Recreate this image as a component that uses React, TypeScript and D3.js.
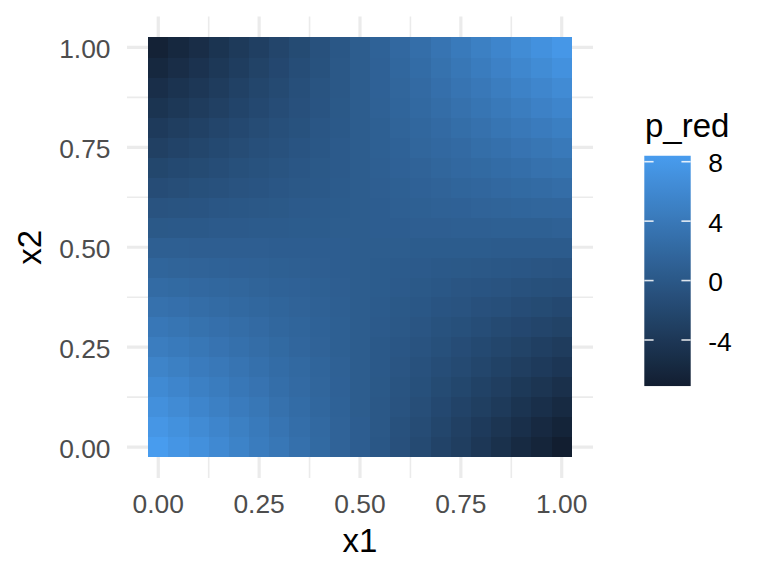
import React from 'react';
import * as d3 from 'd3';

// Grid coordinates
const x1Values = [0.0, 0.05, 0.1, 0.15, 0.2, 0.25, 0.3, 0.35, 0.4, 0.45, 0.5, 0.55, 0.6, 0.65, 0.7, 0.75, 0.8, 0.85, 0.9, 0.95, 1.0];
const x2Values = [0.0, 0.05, 0.1, 0.15, 0.2, 0.25, 0.3, 0.35, 0.4, 0.45, 0.5, 0.55, 0.6, 0.65, 0.7, 0.75, 0.8, 0.85, 0.9, 0.95, 1.0];

// p_red, one row per x2 value (bottom row first), columns follow x1Values
const pRedRows: number[][] = [
  [8.4, 7.6, 6.9, 6.1, 5.3, 4.5, 3.8, 3.0, 2.2, 1.4, 0.7, -0.1, -0.9, -1.7, -2.5, -3.2, -4.0, -4.8, -5.6, -6.3, -7.1],
  [7.7, 7.0, 6.3, 5.6, 4.9, 4.2, 3.5, 2.8, 2.1, 1.4, 0.7, 0.0, -0.8, -1.5, -2.2, -2.9, -3.6, -4.3, -5.0, -5.7, -6.4],
  [6.9, 6.3, 5.6, 5.0, 4.4, 3.8, 3.1, 2.5, 1.9, 1.3, 0.6, 0.0, -0.6, -1.2, -1.9, -2.5, -3.1, -3.7, -4.4, -5.0, -5.6],
  [6.2, 5.6, 5.0, 4.5, 3.9, 3.4, 2.8, 2.3, 1.7, 1.2, 0.6, 0.1, -0.5, -1.0, -1.6, -2.1, -2.7, -3.2, -3.8, -4.3, -4.9],
  [5.4, 4.9, 4.4, 4.0, 3.5, 3.0, 2.5, 2.1, 1.6, 1.1, 0.6, 0.2, -0.3, -0.8, -1.3, -1.7, -2.2, -2.7, -3.2, -3.6, -4.1],
  [4.6, 4.2, 3.8, 3.4, 3.0, 2.6, 2.2, 1.8, 1.4, 1.0, 0.6, 0.2, -0.2, -0.6, -1.0, -1.4, -1.8, -2.2, -2.6, -3.0, -3.4],
  [3.9, 3.6, 3.2, 2.9, 2.6, 2.3, 1.9, 1.6, 1.3, 1.0, 0.6, 0.3, 0.0, -0.3, -0.7, -1.0, -1.3, -1.7, -2.0, -2.3, -2.6],
  [3.1, 2.9, 2.6, 2.4, 2.1, 1.9, 1.6, 1.4, 1.1, 0.9, 0.6, 0.4, 0.1, -0.1, -0.4, -0.6, -0.9, -1.1, -1.4, -1.6, -1.9],
  [2.4, 2.2, 2.0, 1.9, 1.7, 1.5, 1.3, 1.2, 1.0, 0.8, 0.6, 0.5, 0.3, 0.1, -0.1, -0.3, -0.4, -0.6, -0.8, -1.0, -1.1],
  [1.6, 1.5, 1.4, 1.3, 1.2, 1.1, 1.0, 0.9, 0.8, 0.7, 0.6, 0.5, 0.4, 0.3, 0.2, 0.1, 0.0, -0.1, -0.2, -0.3, -0.4],
  [0.9, 0.9, 0.8, 0.8, 0.8, 0.8, 0.7, 0.7, 0.7, 0.7, 0.6, 0.6, 0.6, 0.5, 0.5, 0.5, 0.5, 0.4, 0.4, 0.4, 0.4],
  [0.1, 0.2, 0.2, 0.3, 0.3, 0.4, 0.4, 0.5, 0.5, 0.6, 0.6, 0.7, 0.7, 0.8, 0.8, 0.9, 0.9, 1.0, 1.0, 1.0, 1.1],
  [-0.6, -0.5, -0.4, -0.2, -0.1, 0.0, 0.1, 0.3, 0.4, 0.5, 0.6, 0.7, 0.9, 1.0, 1.1, 1.2, 1.4, 1.5, 1.6, 1.7, 1.8],
  [-1.4, -1.2, -1.0, -0.8, -0.6, -0.4, -0.2, 0.0, 0.2, 0.4, 0.6, 0.8, 1.0, 1.2, 1.4, 1.6, 1.8, 2.0, 2.2, 2.4, 2.6],
  [-2.1, -1.8, -1.6, -1.3, -1.0, -0.7, -0.5, -0.2, 0.1, 0.3, 0.6, 0.9, 1.2, 1.4, 1.7, 2.0, 2.2, 2.5, 2.8, 3.1, 3.3],
  [-2.9, -2.5, -2.2, -1.8, -1.5, -1.1, -0.8, -0.4, -0.1, 0.3, 0.6, 1.0, 1.3, 1.7, 2.0, 2.3, 2.7, 3.0, 3.4, 3.7, 4.1],
  [-3.6, -3.2, -2.8, -2.3, -1.9, -1.5, -1.1, -0.7, -0.2, 0.2, 0.6, 1.0, 1.5, 1.9, 2.3, 2.7, 3.1, 3.6, 4.0, 4.4, 4.8],
  [-4.4, -3.9, -3.4, -2.9, -2.4, -1.9, -1.4, -0.9, -0.4, 0.1, 0.6, 1.1, 1.6, 2.1, 2.6, 3.1, 3.6, 4.1, 4.6, 5.1, 5.6],
  [-5.1, -4.5, -4.0, -3.4, -2.8, -2.2, -1.7, -1.1, -0.5, 0.0, 0.6, 1.2, 1.7, 2.3, 2.9, 3.5, 4.0, 4.6, 5.2, 5.7, 6.3],
  [-5.9, -5.2, -4.6, -3.9, -3.3, -2.6, -2.0, -1.3, -0.7, 0.0, 0.6, 1.2, 1.9, 2.5, 3.2, 3.8, 4.5, 5.1, 5.8, 6.4, 7.1],
  [-6.6, -5.9, -5.2, -4.4, -3.7, -3.0, -2.3, -1.6, -0.8, -0.1, 0.6, 1.3, 2.0, 2.8, 3.5, 4.2, 4.9, 5.6, 6.4, 7.1, 7.8],
];

const axisTicks = [0, 0.25, 0.5, 0.75, 1];
const axisTickLabels = ['0.00', '0.25', '0.50', '0.75', '1.00'];
const minorTicks = [0.125, 0.375, 0.625, 0.875];
const legendTicks = [-4, 0, 4, 8];
const legendTickLabels = ['-4', '0', '4', '8'];

const FONT = "'Liberation Sans', Arial, Helvetica, sans-serif";
const LOW_COLOR = '#121E30';
const HIGH_COLOR = '#489CEE';

export default function App() {
  const W = 768;
  const H = 576;
  const tileHalf = 0.025;

  const xScale = d3.scaleLinear().domain([-0.0775, 1.0775]).range([127, 593]);
  const yScale = d3.scaleLinear().domain([-0.0775, 1.0775]).range([478, 16.5]);

  const cells = pRedRows.flatMap((row, j) =>
    row.map((v, i) => ({ x1: x1Values[i], x2: x2Values[j], v }))
  );
  const [vmin, vmax] = d3.extent(cells, (d) => d.v) as [number, number];
  const color = d3
    .scaleLinear<string>()
    .domain([vmin, vmax])
    .range([LOW_COLOR, HIGH_COLOR])
    .interpolate(d3.interpolateRgb);

  const pxPerUnit = (340 - 161.7) / 12;
  const legScale = d3
    .scaleLinear()
    .domain([vmin, vmax])
    .range([340 + (-4 - vmin) * pxPerUnit, 161.7 - (vmax - 8) * pxPerUnit]);
  const legX = 644.3;
  const legW = 46.4;
  const stops = d3.range(0, 1.0001, 0.05);

  const [px0, px1] = xScale.range();
  const [py0, py1] = yScale.range();

  return (
    <svg
      width={W}
      height={H}
      style={{ position: 'absolute', left: 0, top: 0, background: '#fff' }}
      fontFamily={FONT}
    >
      <defs>
        <linearGradient id="legGrad" x1="0" y1="1" x2="0" y2="0">
          {stops.map((t, k) => (
            <stop key={k} offset={t} stopColor={color(vmin + t * (vmax - vmin))} />
          ))}
        </linearGradient>
      </defs>
      <rect x={0} y={0} width={W} height={H} fill="#fff" />

      {minorTicks.map((t) => (
        <g key={'mn' + t}>
          <line x1={px0} x2={px1} y1={yScale(t)} y2={yScale(t)} stroke="#EBEBEB" strokeWidth={1.6} />
          <line y1={py0} y2={py1} x1={xScale(t)} x2={xScale(t)} stroke="#EBEBEB" strokeWidth={1.6} />
        </g>
      ))}
      {axisTicks.map((t) => (
        <g key={'mj' + t}>
          <line x1={px0} x2={px1} y1={yScale(t)} y2={yScale(t)} stroke="#EBEBEB" strokeWidth={3.2} />
          <line y1={py0} y2={py1} x1={xScale(t)} x2={xScale(t)} stroke="#EBEBEB" strokeWidth={3.2} />
        </g>
      ))}

      <g shapeRendering="crispEdges">
        {cells.map((d, k) => {
          const xa = xScale(d.x1 - tileHalf);
          const xb = xScale(d.x1 + tileHalf);
          const ya = yScale(d.x2 + tileHalf);
          const yb = yScale(d.x2 - tileHalf);
          return (
            <rect key={k} x={xa} y={ya} width={xb - xa + 0.3} height={yb - ya + 0.3} fill={color(d.v)} />
          );
        })}
      </g>

      {axisTicks.map((t, k) => (
        <text key={'yl' + t} x={110.5} y={yScale(t) + 11} textAnchor="end" fontSize={26.4} fill="#4D4D4D">
          {axisTickLabels[k]}
        </text>
      ))}
      {axisTicks.map((t, k) => (
        <text key={'xl' + t} x={xScale(t)} y={513.3} textAnchor="middle" fontSize={26.4} fill="#4D4D4D">
          {axisTickLabels[k]}
        </text>
      ))}

      <text x={(px0 + px1) / 2} y={551.5} textAnchor="middle" fontSize={33} fill="#000">
        x1
      </text>
      <text transform={`translate(41, ${(py0 + py1) / 2}) rotate(-90)`} textAnchor="middle" fontSize={33} fill="#000">
        x2
      </text>

      <text x={645} y={136.5} fontSize={33} fill="#000">
        p_red
      </text>
      <rect
        x={legX}
        y={legScale(vmax)}
        width={legW}
        height={legScale(vmin) - legScale(vmax)}
        fill="url(#legGrad)"
      />
      {legendTicks.map((t, k) => (
        <g key={'lt' + t}>
          <line x1={legX} x2={legX + legW / 5} y1={legScale(t)} y2={legScale(t)} stroke="#fff" strokeOpacity={0.85} strokeWidth={1.6} />
          <line x1={legX + legW - legW / 5} x2={legX + legW} y1={legScale(t)} y2={legScale(t)} stroke="#fff" strokeOpacity={0.85} strokeWidth={1.6} />
          <text x={708.3} y={legScale(t) + 10.5} fontSize={26.4} fill="#000">
            {legendTickLabels[k]}
          </text>
        </g>
      ))}
    </svg>
  );
}
